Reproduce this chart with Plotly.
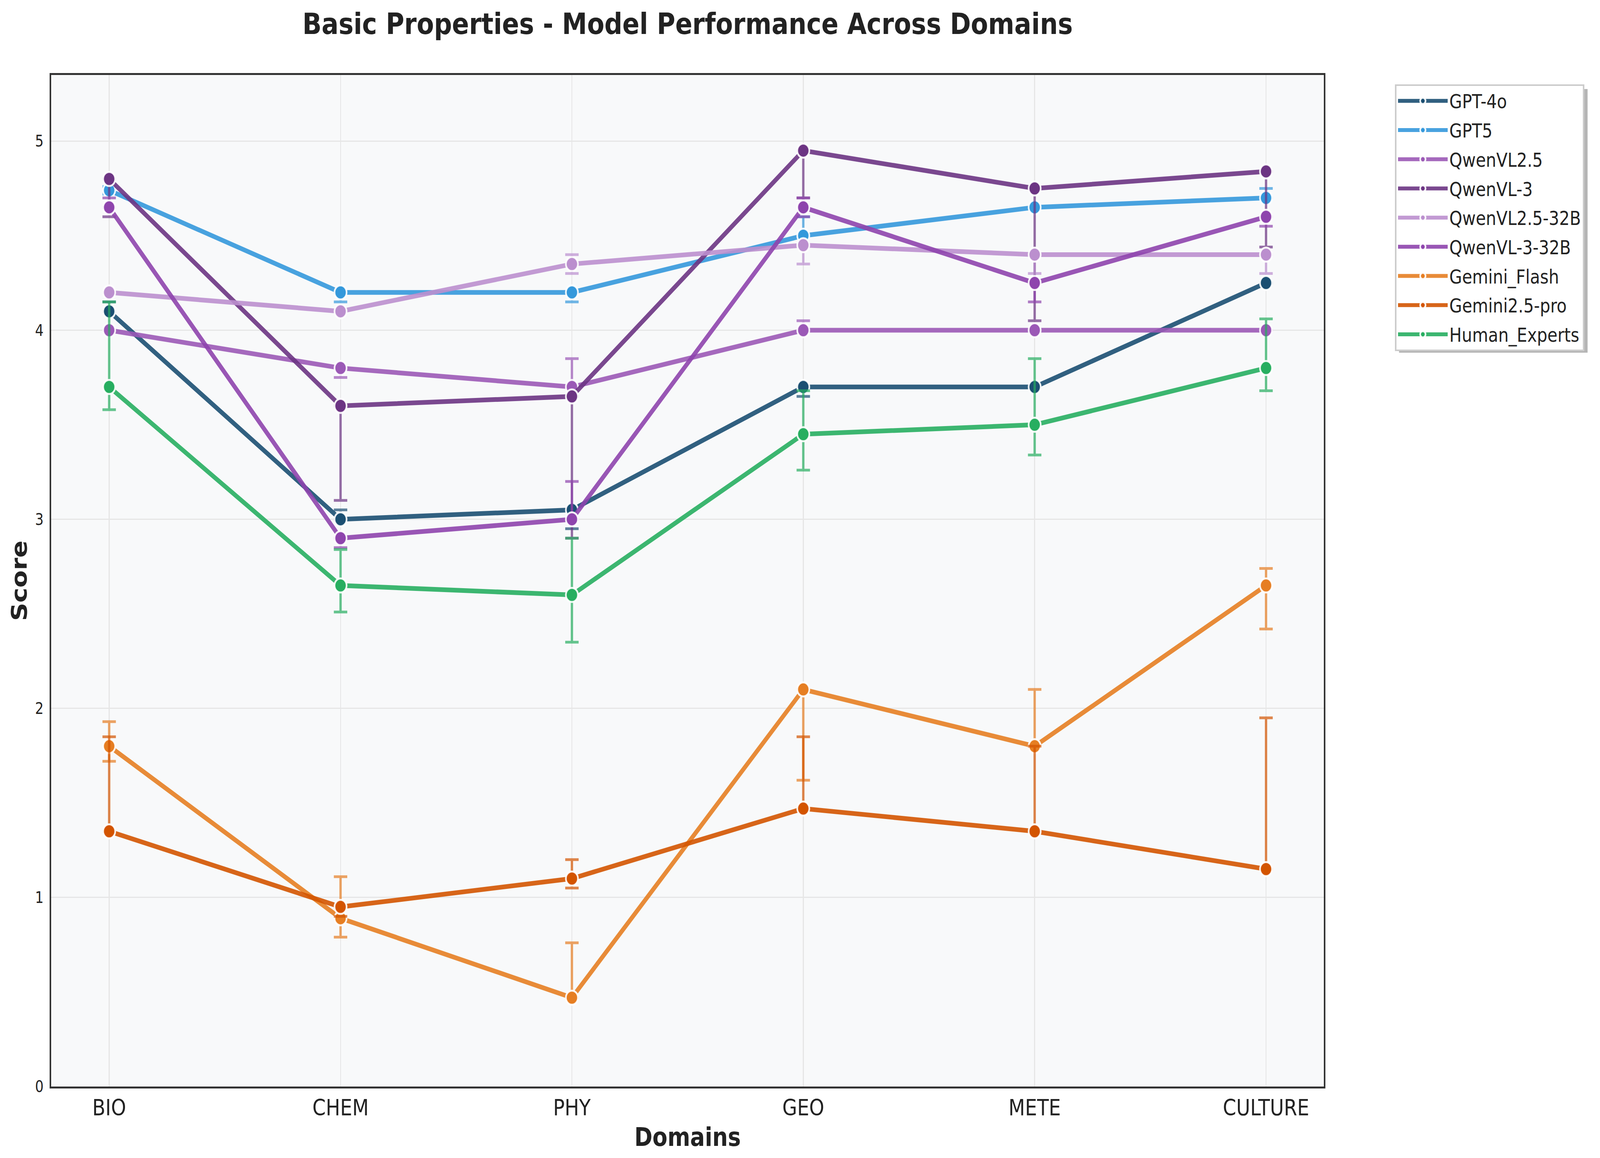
import plotly.graph_objects as go

categories = ["BIO", "CHEM", "PHY", "GEO", "METE", "CULTURE"]
models = ["GPT-4o", "GPT5", "QwenVL2.5", "QwenVL-3", "QwenVL2.5-32B",
          "QwenVL-3-32B", "Gemini_Flash", "Gemini2.5-pro", "Human_Experts"]

gpt4o = [4.10, 3.00, 3.05, 3.70, 3.70, 4.25]
gpt5 = [4.74, 4.20, 4.20, 4.50, 4.65, 4.70]
qwenvl25 = [4.00, 3.80, 3.70, 4.00, 4.00, 4.00]
qwenvl3 = [4.80, 3.60, 3.65, 4.95, 4.75, 4.84]
qwenvl25_32b = [4.20, 4.10, 4.35, 4.45, 4.40, 4.40]
qwenvl3_32b = [4.65, 2.90, 3.00, 4.65, 4.25, 4.60]
gemini_flash = [1.80, 0.89, 0.47, 2.10, 1.80, 2.65]
gemini25_pro = [1.35, 0.95, 1.10, 1.47, 1.35, 1.15]
human_experts = [3.70, 2.65, 2.60, 3.45, 3.50, 3.80]

# asymmetric error bars (upper, lower)
gpt4o_up = [0.05, 0.05, 0.00, 0.00, 0.00, 0.00]
gpt4o_lo = [0.00, 0.00, 0.10, 0.05, 0.00, 0.00]
gpt5_up = [0.02, 0.00, 0.00, 0.10, 0.00, 0.05]
gpt5_lo = [0.02, 0.05, 0.05, 0.00, 0.00, 0.00]
qwenvl25_up = [0.00, 0.00, 0.15, 0.05, 0.00, 0.00]
qwenvl25_lo = [0.00, 0.05, 0.00, 0.00, 0.00, 0.00]
qwenvl3_up = [0.00, 0.00, 0.00, 0.00, 0.00, 0.00]
qwenvl3_lo = [0.20, 0.50, 0.75, 0.25, 0.70, 0.40]
qwenvl25_32b_up = [0.00, 0.00, 0.05, 0.00, 0.00, 0.00]
qwenvl25_32b_lo = [0.00, 0.00, 0.05, 0.10, 0.10, 0.10]
qwenvl3_32b_up = [0.05, 0.00, 0.20, 0.05, 0.00, 0.00]
qwenvl3_32b_lo = [0.00, 0.05, 0.00, 0.05, 0.10, 0.05]
gemini_flash_up = [0.13, 0.22, 0.29, 0.00, 0.30, 0.09]
gemini_flash_lo = [0.08, 0.10, 0.00, 0.48, 0.00, 0.23]
gemini25_pro_up = [0.50, 0.00, 0.10, 0.38, 0.45, 0.80]
gemini25_pro_lo = [0.00, 0.05, 0.05, 0.00, 0.00, 0.00]
human_experts_up = [0.45, 0.19, 0.30, 0.23, 0.35, 0.26]
human_experts_lo = [0.12, 0.14, 0.25, 0.19, 0.16, 0.12]

colors = ["#1B4F72", "#3498DB", "#9B59B6", "#6C3483", "#BB8FCE",
          "#8E44AD", "#E67E22", "#D35400", "#27AE60"]

series = [gpt4o, gpt5, qwenvl25, qwenvl3, qwenvl25_32b, qwenvl3_32b,
          gemini_flash, gemini25_pro, human_experts]
ups = [gpt4o_up, gpt5_up, qwenvl25_up, qwenvl3_up, qwenvl25_32b_up,
       qwenvl3_32b_up, gemini_flash_up, gemini25_pro_up, human_experts_up]
los = [gpt4o_lo, gpt5_lo, qwenvl25_lo, qwenvl3_lo, qwenvl25_32b_lo,
       qwenvl3_32b_lo, gemini_flash_lo, gemini25_pro_lo, human_experts_lo]


def rgba(hex_color, a):
    h = hex_color.lstrip("#")
    r, g, b = int(h[0:2], 16), int(h[2:4], 16), int(h[4:6], 16)
    return f"rgba({r},{g},{b},{a})"


W, H = 4769, 2965
PL, PR, PT, PB = 153, 3946, 192, 2782
FONT = "DejaVu Sans"

fig = go.Figure()
for i, name in enumerate(models):
    c = colors[i]
    fig.add_trace(go.Scatter(
        x=categories, y=series[i], name=name, mode="lines+markers",
        legendgroup=name,
        line=dict(color=rgba(c, 0.9), width=12),
        marker=dict(color=c, size=36, line=dict(color="rgba(255,255,255,0.9)", width=5)),
        error_y=dict(type="data", symmetric=False, array=ups[i], arrayminus=los[i],
                     color=rgba(c, 0.7), thickness=7, width=20),
    ))


def px_x(p):
    return (p - PL) / (PR - PL)


def px_y(p):
    return (PB - p) / (PB - PT)


# legend shadow
fig.add_shape(type="rect", xref="paper", yref="paper",
              x0=px_x(4170), x1=px_x(4732), y0=px_y(903), y1=px_y(228),
              fillcolor="rgba(120,120,120,0.55)", line=dict(width=0), layer="above")

fig.update_layout(
    width=W, height=H,
    margin=dict(l=PL, r=W - PR, t=PT, b=H - PB),
    paper_bgcolor="white", plot_bgcolor="#F8F9FA",
    font=dict(family=FONT, color="#222222"),
    title=dict(text="<b>Basic Properties - Model Performance Across Domains</b>",
               x=(PL + PR) / 2 / W, xanchor="center", xref="container",
               y=1 - 61 / H, yanchor="middle", yref="container",
               font=dict(size=75, family=FONT, color="#222222")),
    showlegend=True,
    legend=dict(x=px_x(4158), y=px_y(216), xanchor="left", yanchor="top",
                bgcolor="white", bordercolor="#cccccc", borderwidth=4,
                font=dict(size=49, family=FONT, color="#222222"),
                tracegroupgap=8, traceorder="grouped", itemwidth=148),
    xaxis=dict(type="category", categoryorder="array", categoryarray=categories,
               range=[-0.25, 5.25], showgrid=True, gridcolor="#E6E6E6", gridwidth=3,
               showline=True, mirror=True, linecolor="#333333", linewidth=5,
               ticks="outside", ticklen=1, tickcolor="rgba(0,0,0,0)",
               tickfont=dict(size=57, family=FONT, color="#222222"),
               title=dict(text="<b>Domains</b>", standoff=22,
                          font=dict(size=65, family=FONT, color="#222222")),
               zeroline=False),
    yaxis=dict(range=[0, 5.35], tickvals=[0, 1, 2, 3, 4, 5],
               showgrid=True, gridcolor="#E6E6E6", gridwidth=3,
               showline=True, mirror=True, linecolor="#333333", linewidth=5,
               ticks="outside", ticklen=10, tickcolor="rgba(0,0,0,0)",
               tickfont=dict(size=40, family=FONT, color="#222222"),
               title=dict(text="<b>Score</b>", standoff=5,
                          font=dict(size=65, family=FONT, color="#222222")),
               zeroline=False),
)

# keep the whole figure inside the visible viewport if the window is narrower
fit_js = """
(function(){
  document.documentElement.style.overflow = 'hidden';
  document.body.style.margin = '0';
  document.body.style.overflow = 'hidden';
  var gd = document.getElementById('{plot_id}');
  var vw = window.innerWidth, vh = window.innerHeight;
  var sx = Math.min(1, vw / %d), sy = Math.min(1, vh / %d);
  if (sx < 1 || sy < 1) {
    gd.style.transformOrigin = '0 0';
    gd.style.transform = 'scale(' + sx + ',' + sy + ')';
  }
})();
""" % (W, H)

fig.write_html("out.html", post_script=fit_js, config={"displayModeBar": False})
